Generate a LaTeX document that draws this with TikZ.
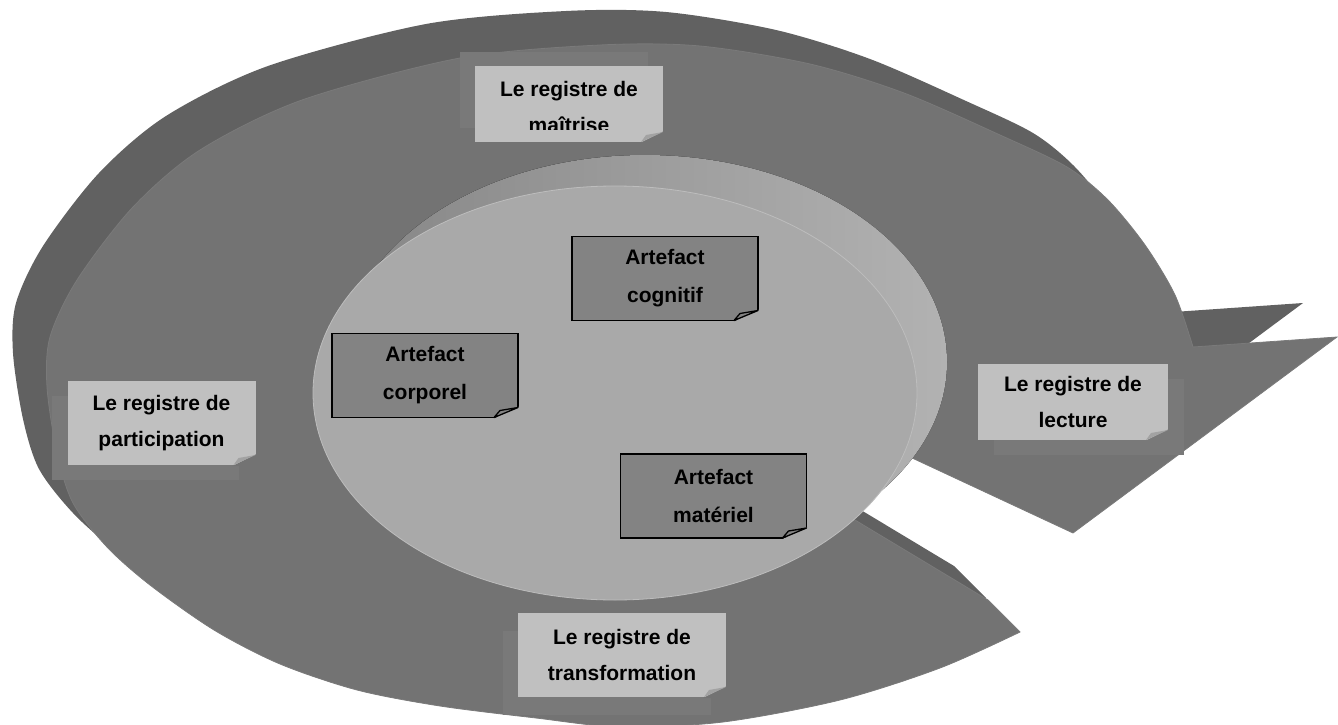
\documentclass[tikz,border=0pt]{standalone}
\usepackage{fontspec}
\setmainfont{Liberation Sans}
\definecolor{bandtop}{HTML}{737373}
\definecolor{bandside}{HTML}{616161}
\definecolor{bandedge}{HTML}{7A7A7A}
\definecolor{notelight}{HTML}{C0C0C0}
\definecolor{noteshadow}{HTML}{797979}
\definecolor{notefold}{HTML}{A2A2A2}
\definecolor{diskface}{HTML}{A9A9A9}
\definecolor{diskedge}{HTML}{BDBDBD}
\definecolor{rimdark}{HTML}{868686}
\definecolor{rimlight}{HTML}{B2B2B2}
\definecolor{artgray}{HTML}{838383}
\tikzset{
    regtext/.style={font=\bfseries\fontsize{21}{36}\selectfont, align=center, text=black}, % text of every note
    regnote/.style={regtext, fill=notelight, minimum width=188pt, minimum height=80pt, inner sep=0pt, outer sep=0pt},
    artnote/.style={regtext, font=\bfseries\fontsize{21}{38}\selectfont, fill=artgray, draw=black, line width=1.3pt, minimum width=186pt, minimum height=84pt, inner sep=0pt, outer sep=0pt},
    sheet/.style={fill=noteshadow}, % shadow under a light note
    bandback/.style={fill=bandside},
    bandfront/.style={fill=bandtop, draw=bandedge, line width=0.8pt},
}
\begin{document}
\begin{tikzpicture}[x=1pt, y=-1pt]
\useasboundingbox (0,0) rectangle (1338,725);
% the curved arrow: back face, then front face
\foreach \d/\sty in {-34/bandback, 0/bandfront}{
    \path[\sty, shift={(\d,\d)}] (1020,632) -- plot[smooth] coordinates {(1020,632) (940,668) (840,700) (723,722) (620,727) (536,718) (440,706) (357,690) (280,664) (214,630) (150,585) (107,547) (73,503) (57,453) (47,387) (50,337) (77,280) (133,207) (200,150) (302,100) (460,58) (600,45) (700,46) (810,64) (904,93) (1000,135) (1067,167) (1108,200) (1145,245) (1175,295) (1193,347)}
        -- (1337,337) -- (1073,533) -- (910,457) -- (800,440) -- (850,517) -- (988,600) -- cycle;
}
% shadows of the light notes
\fill[sheet] (460,52) rectangle (648,128);
\fill[sheet] (52,396) rectangle (239,480);
\fill[sheet] (994,379) rectangle (1184,455);
\fill[sheet] (503,631) rectangle (711,715);
% light notes
\node[regnote, minimum height=76pt] (mai) at (569,104) {};
\begin{scope}
    \clip (mai.north west) rectangle ([yshift=13pt]mai.south east);
    \node[regtext] (maitxt) at (569,107) {Le registre de\\maîtrise};
\end{scope}
\node[regnote, minimum height=84pt] (par) at (161.5,423) {Le registre de\\participation};
\node[regnote, minimum width=190pt, minimum height=76pt] (lec) at (1073,402) {Le registre de\\lecture};
\node[regnote, minimum width=208pt, minimum height=84pt] (tra) at (622,655) {Le registre de\\transformation};
\foreach \n/\bg in {mai/bandtop, par/bandtop, lec/noteshadow, tra/bandtop}{
    \fill[\bg] ([xshift=1pt,yshift=-1pt]\n.south east) -- ([xshift=-23pt,yshift=-1pt]\n.south east) -- ([xshift=1pt,yshift=11pt]\n.south east) -- cycle;
    \fill[notefold] ([xshift=-22pt]\n.south east) -- ([xshift=-17pt,yshift=7pt]\n.south east) -- ([yshift=10pt]\n.south east) -- cycle;
}
% the disk
\fill[left color=rimdark, right color=rimlight] (645,362) ellipse [x radius=302pt, y radius=207pt];
\filldraw[fill=diskface, draw=diskedge, line width=0.8pt] (615,393) ellipse [x radius=302pt, y radius=207pt];
% artefacts
\node[artnote] (cog) at (665,278.5) {Artefact\\cognitif};
\node[artnote] (cor) at (425,375.5) {Artefact\\corporel};
\node[artnote] (mat) at (713.5,496) {Artefact\\matériel};
\foreach \n in {cog,cor,mat}{
    \fill[diskface] ([xshift=1.5pt,yshift=-1.5pt]\n.south east) -- ([xshift=-25pt,yshift=-1.5pt]\n.south east) -- ([xshift=1.5pt,yshift=11pt]\n.south east) -- cycle;
    \filldraw[fill=artgray, draw=black, line width=1.3pt, line join=round] ([xshift=-24pt]\n.south east) -- ([xshift=-18pt,yshift=7pt]\n.south east) -- ([yshift=10pt]\n.south east) -- cycle;
}
\end{tikzpicture}
\end{document}
